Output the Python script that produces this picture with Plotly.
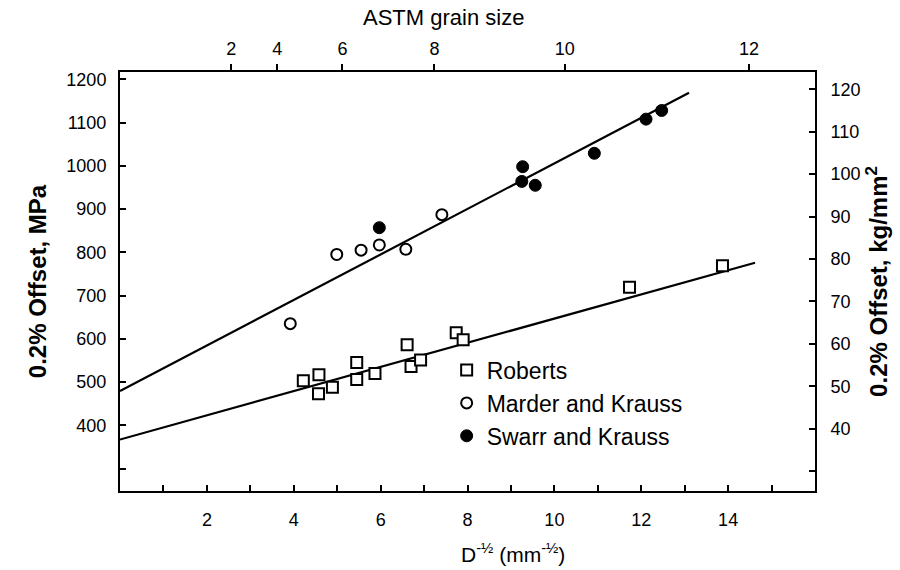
import plotly.graph_objects as go

# ---- data (x: D^-1/2 in mm^-1/2, y: 0.2% offset in MPa) ----
roberts_x = [4.22, 4.58, 4.57, 4.89, 5.45, 5.45, 5.87, 6.61, 6.70, 6.92, 7.74, 7.90, 11.73, 13.87]
roberts_y = [503, 517, 473, 488, 545, 506, 520, 586, 536, 551, 614, 598, 719, 769]

marder_x = [3.92, 4.99, 5.55, 5.97, 6.58, 7.41]
marder_y = [635, 795, 805, 817, 807, 887]

swarr_x = [5.97, 9.27, 9.25, 9.56, 10.92, 12.11, 12.47]
swarr_y = [857, 998, 964, 955, 1029, 1108, 1128]

fit_upper_x = [0.0, 13.1]
fit_upper_y = [479, 1169]
fit_lower_x = [0.0, 14.62]
fit_lower_y = [367, 776]

x_major = [2, 4, 6, 8, 10, 12, 14]
x_minor = [1, 3, 5, 7, 9, 11, 13, 15]
y_major = [400, 500, 600, 700, 800, 900, 1000, 1100, 1200]
y_minor = [300]
y2_major = [40, 50, 60, 70, 80, 90, 100, 110, 120]
y2_minor = [30]
astm_sizes = [2, 4, 6, 8, 10, 12]

X_RANGE = [0, 16]
Y_RANGE = [248, 1217]
MPA_PER_KGMM2 = 9.807
ASTM_K = 1.81  # D^-1/2 = k * 2^(G/4)

astm_pos = [ASTM_K * 2 ** (g / 4) for g in astm_sizes]

FONT = "Liberation Sans, Arial, Helvetica, sans-serif"
TICK = dict(ticks="inside", ticklen=6, tickwidth=1.5, tickcolor="black",
            showline=True, linecolor="black", linewidth=2, showgrid=False, zeroline=False)
MINOR = dict(ticks="inside", ticklen=6, tickwidth=1.5, tickcolor="black", showgrid=False,
             tickmode="array")

fig = go.Figure()
fig.add_trace(go.Scatter(x=fit_upper_x, y=fit_upper_y, mode="lines",
                         line=dict(color="black", width=2.2), showlegend=False, hoverinfo="skip"))
fig.add_trace(go.Scatter(x=fit_lower_x, y=fit_lower_y, mode="lines",
                         line=dict(color="black", width=2.2), showlegend=False, hoverinfo="skip"))
fig.add_trace(go.Scatter(x=roberts_x, y=roberts_y, mode="markers", name="Roberts",
                         marker=dict(symbol="square", size=11, color="white",
                                     line=dict(color="black", width=2))))
fig.add_trace(go.Scatter(x=marder_x, y=marder_y, mode="markers", name="Marder and Krauss",
                         marker=dict(symbol="circle", size=11, color="white",
                                     line=dict(color="black", width=2))))
fig.add_trace(go.Scatter(x=swarr_x, y=swarr_y, mode="markers", name="Swarr and Krauss",
                         marker=dict(symbol="circle", size=12, color="black",
                                     line=dict(color="black", width=1))))
# invisible trace to activate the secondary axes
fig.add_trace(go.Scatter(x=X_RANGE, y=[None, None], xaxis="x2", yaxis="y2",
                         mode="markers", showlegend=False, hoverinfo="skip"))

fig.update_layout(
    width=900, height=570,
    margin=dict(l=120, r=82, t=72, b=79),
    paper_bgcolor="white", plot_bgcolor="white",
    font=dict(family=FONT, color="black", size=18),
    showlegend=True,
    legend=dict(x=0.47, y=0.34, xanchor="left", yanchor="top",
                bgcolor="rgba(0,0,0,0)", font=dict(size=23, family=FONT),
                itemwidth=30, tracegroupgap=0),
    xaxis=dict(range=X_RANGE, tickmode="array", tickvals=x_major,
               minor=dict(tickvals=x_minor, **MINOR),
               ticklabelstandoff=11, tickfont=dict(size=18), **TICK),
    xaxis2=dict(range=X_RANGE, overlaying="x", side="top", tickmode="array",
                tickvals=astm_pos, ticktext=[str(g) for g in astm_sizes],
                ticks="outside", ticklen=6, tickwidth=1.5, tickcolor="black",
                showline=True, linecolor="black", linewidth=2, showgrid=False, zeroline=False,
                tickfont=dict(size=18), ticklabelstandoff=2),
    yaxis=dict(range=Y_RANGE, tickmode="array", tickvals=y_major,
               minor=dict(tickvals=y_minor, **MINOR),
               ticklabelstandoff=8, tickfont=dict(size=18),
               title=dict(text="<b>0.2% Offset, MPa</b>", font=dict(size=24), standoff=13), **TICK),
    yaxis2=dict(range=[Y_RANGE[0] / MPA_PER_KGMM2, Y_RANGE[1] / MPA_PER_KGMM2],
                overlaying="y", side="right", tickmode="array", tickvals=y2_major,
                minor=dict(tickvals=y2_minor, **MINOR),
                ticklabelstandoff=10, tickfont=dict(size=18),
                title=dict(text="<b>0.2% Offset, kg/mm<sup>2</sup></b>", font=dict(size=24), standoff=11),
                **TICK),
    annotations=[
        dict(text="ASTM grain size", xref="paper", yref="paper", x=0.466, y=1.129,
             xanchor="center", yanchor="middle", showarrow=False, font=dict(size=22)),
        dict(text="D<sup>-½</sup> (mm<sup>-½</sup>)", xref="paper", yref="paper", x=0.566, y=-0.148,
             xanchor="center", yanchor="middle", showarrow=False, font=dict(size=21)),
    ],
)

fig.write_html("out.html")
